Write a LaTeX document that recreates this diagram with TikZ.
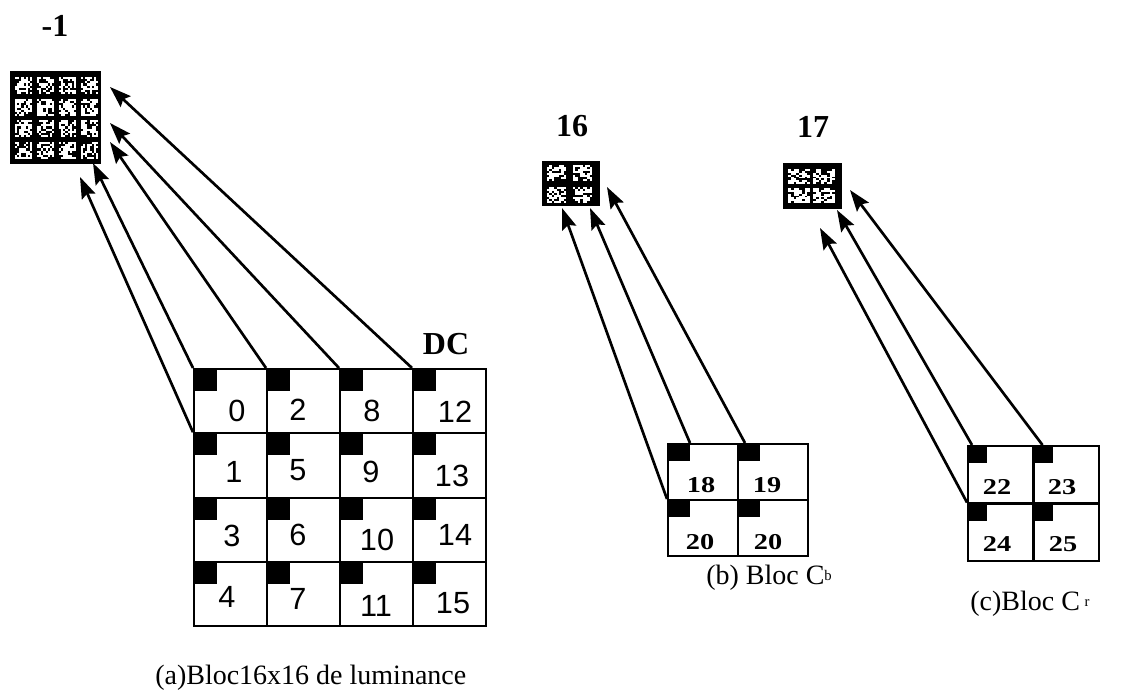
\documentclass[tikz,border=0pt]{standalone}
\usepackage{fontspec}
\usepackage{graphicx}
\setmainfont{Liberation Serif}
\newfontfamily\digitfont{Liberation Sans}
\usetikzlibrary{arrows.meta,calc}

% one speckled sub-block of a DC mosaic: #1,#2 = top-left, #3,#4 = size (px)
\newcommand{\mosaicpatch}[4]{%
  \foreach \i in {0,...,7}{%
    \foreach \j in {0,...,7}{%
      \pgfmathtruncatemacro\keep{rnd<0.62}%
      \ifnum\keep=1
        \fill[white] ({#1+\i*#3/8},{#2+\j*#4/8}) rectangle ++({#3/8},{#4/8});
      \fi
    }%
  }%
}

\begin{document}
\begin{tikzpicture}[x=0.75pt,y=-0.75pt,
  gridline/.style={line width=1.6pt},
  lumcell/.style={draw, gridline, inner sep=0pt, anchor=north west,
    minimum width=54.75pt, minimum height=48.2pt},
  cbcell/.style={draw, gridline, inner sep=0pt, anchor=north west,
    minimum width=52.5pt, minimum height=42pt},
  crcell/.style={draw, gridline, inner sep=0pt, anchor=north west,
    minimum width=49pt, minimum height=43pt},
  lumnum/.style={inner sep=0pt, font=\digitfont\fontsize{23}{23}\selectfont},
  chromanum/.style={inner sep=0pt, font=\bfseries\fontsize{17}{17}\selectfont},
  title/.style={inner sep=0pt, font=\bfseries\fontsize{24}{24}\selectfont},
  caption/.style={inner sep=0pt, anchor=base west, font=\fontsize{21}{21}\selectfont},
  mosaic/.style={fill=black, inner sep=0pt, anchor=north west},
  arrowline/.style={line width=2pt, -{Stealth[length=16pt,width=11pt,inset=2.5pt]}},
]
\useasboundingbox[fill=white] (0,0) rectangle (1123,696);
\pgfmathsetseed{4213}

% ---------- DC mosaics ----------
\node[mosaic, minimum width=68.25pt, minimum height=69.75pt] (mosY) at (10,71) {};
\foreach \px in {15,37,59,81}
  \foreach \py in {77,99,120,142}
    {\mosaicpatch{\px}{\py}{17}{17}}

\node[mosaic, minimum width=43.5pt, minimum height=33.75pt] (mosCb) at (542,161) {};
\foreach \px in {547,573}
  \foreach \py in {165,187}
    {\mosaicpatch{\px}{\py}{19}{16}}

\node[mosaic, minimum width=44.25pt, minimum height=34.5pt] (mosCr) at (783,163) {};
\foreach \px in {788,813}
  \foreach \py in {169,188}
    {\mosaicpatch{\px}{\py}{22}{15}}

\node[title] (tY) at (55,26) {-1};
\node[title] (tCb) at (572,126) {16};
\node[title] (tCr) at (813,127) {17};
\node[title] (tDC) at (446,344) {DC};

% ---------- luminance 16x16 block: four rows of 8x8 blocks ----------
\foreach \n/\c/\r/\lx/\ly in {
   0/0/0/237/411,  2/1/0/298/410,  8/2/0/372/411, 12/3/0/455/412,
   1/0/1/234/472,  5/1/1/298/470,  9/2/1/371/472, 13/3/1/452/476,
   3/0/2/232/536,  6/1/2/298/535, 10/2/2/377/540, 14/3/2/455/535,
   4/0/3/227/597,  7/1/3/298/599, 11/2/3/376/606, 15/3/3/453/603}{
  \node[lumcell] (L\n) at ({193+73*\c},{368+64.25*\r}) {};
  \fill (L\n.north west) rectangle ++(24,23);
  \node[lumnum] (Ln\n) at (\lx,\ly) {\n};
}

% ---------- chrominance blocks ----------
\foreach \n/\c/\r/\lx/\ly/\t in {18/0/0/701/485/18, 19/1/0/767/485/19,
                                  20/0/1/700/542/20, 21/1/1/768/542/20}{
  \node[cbcell] (cb\n) at ({667+70*\c},{443+56*\r}) {};
  \fill (cb\n.north west) rectangle ++(23,18);
  \node[chromanum] (cbn\n) at (\lx,\ly) {\scalebox{1.25}[1]{\t}};
}
\foreach \n/\c/\r/\lx/\ly in {22/0/0/997/487, 23/1/0/1062/487,
                              24/0/1/997/544, 25/1/1/1063/544}{
  \node[crcell] (cr\n) at ({967+65.5*\c},{445+57.5*\r}) {};
  \fill (cr\n.north west) rectangle ++(20,18);
  \node[chromanum] (crn\n) at (\lx,\ly) {\scalebox{1.25}[1]{\n}};
}

% ---------- arrow heads at the mosaics ----------
\coordinate (hY12) at (110,87);
\coordinate (hY8)  at (110,123);
\coordinate (hY2)  at (110,142);
\coordinate (hY0)  at (93,163);
\coordinate (hY1)  at (80,177);
\coordinate (hCbA) at (562,208);
\coordinate (hCbB) at (590,208);
\coordinate (hCbC) at (607,187);
\coordinate (hCrA) at (820,228);
\coordinate (hCrB) at (837,210);
\coordinate (hCrC) at (850,190);

\draw[arrowline] (L12.north west) -- (hY12);
\draw[arrowline] (L8.north west)  -- (hY8);
\draw[arrowline] (L2.north west)  -- (hY2);
\draw[arrowline] (L0.north west)  -- (hY0);
\draw[arrowline] (L1.north west)  -- (hY1);

\draw[arrowline] (cb20.north west) -- (hCbA);
\draw[arrowline] ($(cb18.north west)+(23,0)$) -- (hCbB);
\draw[arrowline] ($(cb19.north west)+(8,0)$) -- (hCbC);

\draw[arrowline] (cr24.north west) -- (hCrA);
\draw[arrowline] ($(cr22.north west)+(5,0)$) -- (hCrB);
\draw[arrowline] ($(cr23.north west)+(10,0)$) -- (hCrC);

% ---------- captions ----------
\node[caption] (capY) at (155,684) {(a)Bloc16x16 de luminance};
\node[caption] (capCb) at (706,584) {(b)\ Bloc C\raisebox{0.12em}{\fontsize{11}{11}\selectfont b}};
\node[caption] (capCr) at (970,610) {(c)Bloc C\,\raisebox{0.12em}{\fontsize{11}{11}\selectfont r}};
\end{tikzpicture}
\end{document}
